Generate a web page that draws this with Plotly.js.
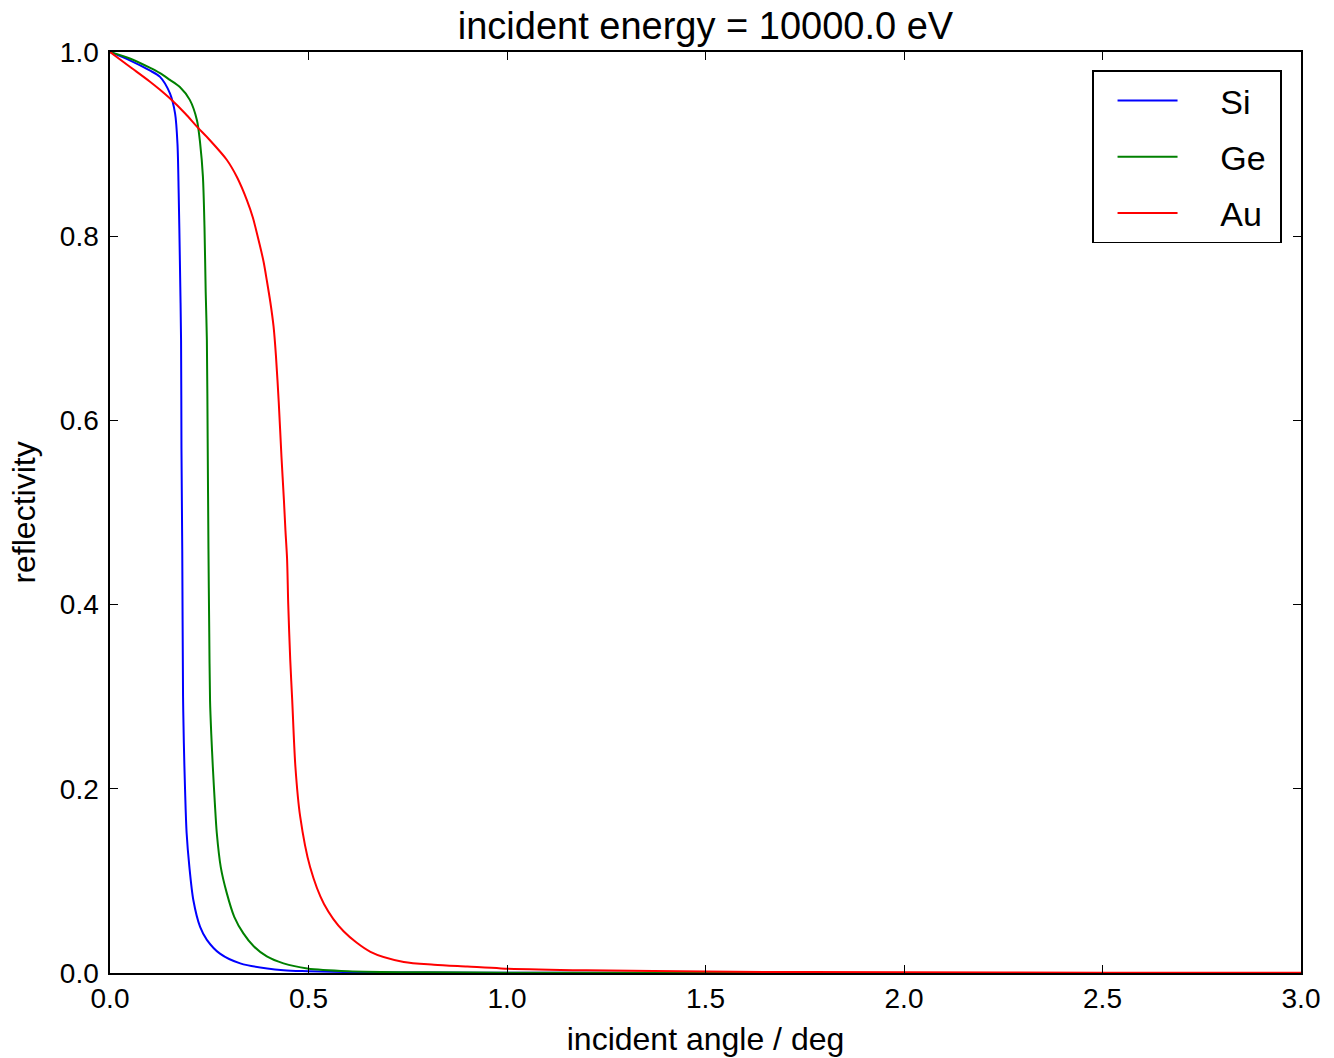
<!DOCTYPE html>
<html>
<head>
<meta charset="utf-8">
<script src="https://cdn.plot.ly/plotly-3.0.1.min.js"></script>
<style>html,body{margin:0;padding:0;background:#fff;}#chart{width:1334px;height:1058px;}</style>
</head>
<body>
<div id="chart"></div>
<script>
// incident angle (deg) and reflectivity
const siAngle = [0, 0.05, 0.10, 0.126, 0.151, 0.164, 0.170, 0.173, 0.176, 0.179, 0.180, 0.182, 0.184, 0.186, 0.189, 0.193, 0.200, 0.210, 0.227, 0.244, 0.277, 0.328, 0.437, 0.5, 0.6, 0.8, 1.0, 1.5, 2.0, 3.0];
const siRefl  = [1.0, 0.991, 0.980, 0.973, 0.955, 0.933, 0.900, 0.847, 0.774, 0.687, 0.57, 0.46, 0.30, 0.25, 0.20, 0.152, 0.115, 0.079, 0.050, 0.036, 0.021, 0.0105, 0.003, 0.002, 0.001, 0.0005, 0.0003, 0.0001, 0.00005, 0.00002];

const geAngle = [0, 0.05, 0.10, 0.126, 0.150, 0.176, 0.201, 0.219, 0.227, 0.234, 0.238, 0.241, 0.244, 0.246, 0.248, 0.250, 0.252, 0.255, 0.259, 0.264, 0.269, 0.279, 0.294, 0.313, 0.336, 0.362, 0.395, 0.437, 0.497, 0.6, 0.8, 1.0, 1.5, 2.0, 3.0];
const geRefl  = [1.0, 0.993, 0.983, 0.977, 0.970, 0.962, 0.948, 0.926, 0.901, 0.865, 0.81, 0.74, 0.687, 0.58, 0.46, 0.37, 0.296, 0.26, 0.224, 0.185, 0.152, 0.115, 0.087, 0.061, 0.043, 0.029, 0.018, 0.0105, 0.005, 0.002, 0.0008, 0.0004, 0.00015, 0.00008, 0.00003];

const auAngle = [0, 0.05, 0.10, 0.126, 0.15, 0.19, 0.219, 0.25, 0.294, 0.32, 0.345, 0.36, 0.378, 0.387, 0.395, 0.404, 0.412, 0.418, 0.425, 0.432, 0.438, 0.442, 0.446, 0.449, 0.454, 0.459, 0.467, 0.479, 0.504, 0.539, 0.589, 0.656, 0.740, 0.816, 0.9, 0.985, 1.2, 1.5, 2.0, 2.5, 3.0];
const auRefl  = [1.0, 0.984, 0.968, 0.959, 0.950, 0.933, 0.919, 0.905, 0.883, 0.864, 0.839, 0.820, 0.789, 0.772, 0.752, 0.728, 0.702, 0.67, 0.62, 0.56, 0.514, 0.48, 0.45, 0.40, 0.34, 0.296, 0.224, 0.170, 0.115, 0.075, 0.045, 0.023, 0.012, 0.009, 0.007, 0.005, 0.003, 0.0015, 0.0007, 0.0004, 0.0002];

const seriesNames = ['Si', 'Ge', 'Au'];
const seriesColors = ['#0000ff', '#008000', '#ff0000'];
const xTicks = [0.0, 0.5, 1.0, 1.5, 2.0, 2.5, 3.0];
const yTicks = [0.0, 0.2, 0.4, 0.6, 0.8, 1.0];

const xs = [siAngle, geAngle, auAngle];
const ys = [siRefl, geRefl, auRefl];
const pad = '\u00a0\u00a0\u00a0\u00a0';
const traces = seriesNames.map((n, i) => ({
  x: xs[i], y: ys[i], name: pad + n + '\u00a0', type: 'scatter', mode: 'lines',
  legendgroup: n,
  line: {color: seriesColors[i], width: 2, shape: 'spline', smoothing: 0.8}
}));

const font = 'Liberation Sans, Arial, sans-serif';
const axisCommon = {
  showline: true, linecolor: '#000', linewidth: 1.6, mirror: 'ticks',
  ticks: 'inside', ticklen: 8, tickwidth: 1, tickcolor: '#000',
  showgrid: false, zeroline: false,
  tickfont: {family: font, size: 28, color: '#000'},
  tickformat: '.1f'
};

const layout = {
  width: 1334, height: 1058,
  margin: {l: 110, r: 33, t: 52, b: 85, pad: 0},
  paper_bgcolor: '#fff', plot_bgcolor: '#fff',
  font: {family: font, color: '#000'},
  title: {text: 'incident energy = 10000.0 eV', font: {family: font, size: 38, color: '#000'},
          x: 0.5, xref: 'paper', xanchor: 'center', y: 0.976, yref: 'container', yanchor: 'middle'},
  xaxis: Object.assign({}, axisCommon, {
    range: [0, 3], tickvals: xTicks, ticklabelstandoff: 0,
    title: {text: 'incident angle / deg', font: {family: font, size: 32, color: '#000'}, standoff: 14}
  }),
  yaxis: Object.assign({}, axisCommon, {
    range: [0, 1], tickvals: yTicks, ticklabelstandoff: 4,
    title: {text: 'reflectivity', font: {family: font, size: 32, color: '#000'}, standoff: 14}
  }),
  showlegend: true,
  legend: {
    x: 0.984, xanchor: 'right', y: 0.98, yanchor: 'top',
    bgcolor: '#fff', bordercolor: '#000', borderwidth: 1.6,
    font: {family: font, size: 34, color: '#000'},
    tracegroupgap: 9, itemwidth: 60, indentation: 19
  }
};

Plotly.newPlot('chart', traces, layout, {displayModeBar: false, staticPlot: true});
</script>
</body>
</html>
